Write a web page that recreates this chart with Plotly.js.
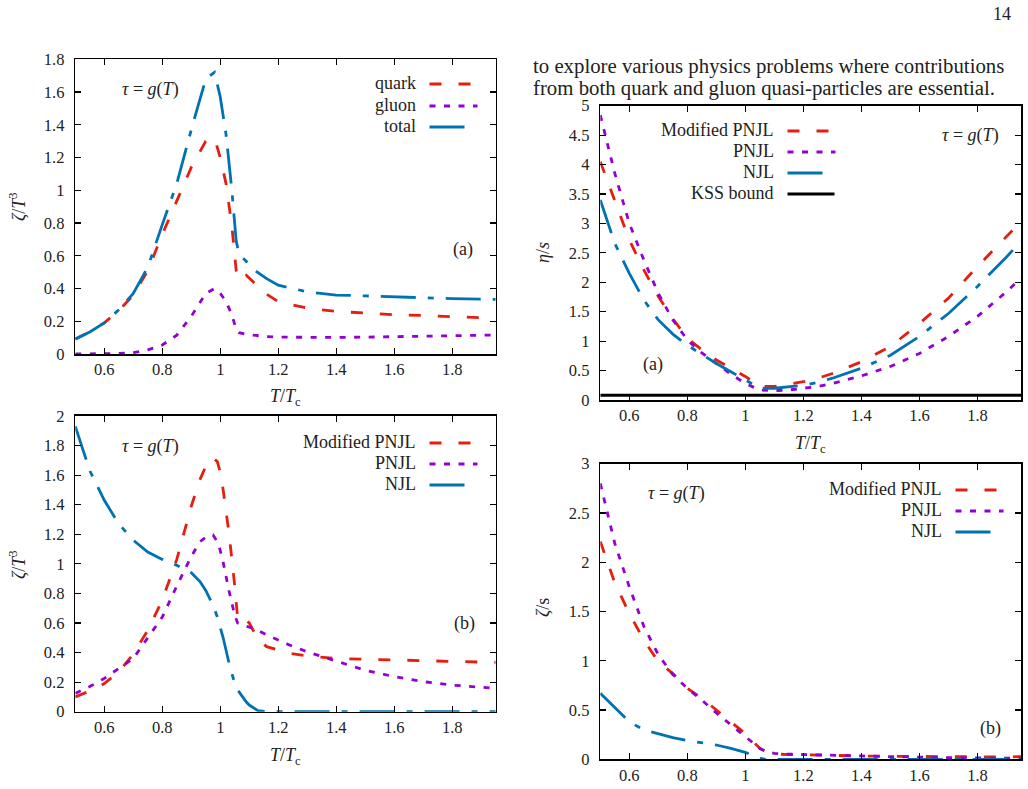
<!DOCTYPE html>
<html>
<head>
<meta charset="utf-8">
<script src="https://cdn.plot.ly/plotly-3.0.1.min.js"></script>
<style>
  html, body { margin: 0; padding: 0; background: #fff; }
  #fig { width: 1028px; height: 789px; }
</style>
</head>
<body>
<div id="fig"></div>
<script>
// ---- Panel (a), left: zeta/T^3 for quark, gluon and total ----
const tempA = [0.5, 0.55, 0.6, 0.65, 0.7, 0.75, 0.8, 0.85, 0.9, 0.95, 0.98, 1.0, 1.02, 1.04, 1.055, 1.065, 1.09, 1.12, 1.16, 1.2, 1.3, 1.4, 1.5, 1.6, 1.7, 1.8, 1.9, 1.95];
const zetaQuark = [0.09, 0.135, 0.19, 0.265, 0.36, 0.51, 0.73, 0.93, 1.14, 1.30, 1.32, 1.20, 1.04, 0.78, 0.51, 0.45, 0.48, 0.43, 0.365, 0.32, 0.28, 0.26, 0.25, 0.24, 0.235, 0.228, 0.222, 0.218];
const zetaGluon = [0.0, 0.0, 0.001, 0.003, 0.008, 0.025, 0.055, 0.115, 0.23, 0.37, 0.40, 0.37, 0.32, 0.24, 0.15, 0.13, 0.12, 0.112, 0.106, 0.103, 0.10, 0.101, 0.103, 0.106, 0.108, 0.111, 0.114, 0.116];
const zetaTotal = [0.092, 0.135, 0.19, 0.27, 0.37, 0.53, 0.79, 1.04, 1.37, 1.68, 1.72, 1.57, 1.34, 1.00, 0.69, 0.61, 0.565, 0.51, 0.46, 0.42, 0.38, 0.36, 0.355, 0.348, 0.343, 0.338, 0.335, 0.334];

// ---- Panel (b), left: zeta/T^3 for the three models ----
const tempB = [0.5, 0.55, 0.6, 0.65, 0.7, 0.75, 0.8, 0.85, 0.9, 0.93, 0.95, 0.975, 0.99, 1.0, 1.01, 1.03, 1.05, 1.06, 1.08, 1.09, 1.1, 1.13, 1.16, 1.2, 1.24, 1.3, 1.4, 1.5, 1.6, 1.7, 1.8, 1.9, 1.95];
const zetaModPNJL = [0.10, 0.14, 0.19, 0.27, 0.39, 0.55, 0.755, 1.03, 1.39, 1.57, 1.66, 1.72, 1.69, 1.62, 1.50, 1.21, 0.85, 0.63, 0.60, 0.615, 0.60, 0.49, 0.44, 0.42, 0.395, 0.377, 0.36, 0.355, 0.35, 0.345, 0.34, 0.335, 0.333];
const zetaPNJL = [0.124, 0.17, 0.225, 0.29, 0.36, 0.50, 0.64, 0.85, 1.05, 1.15, 1.18, 1.195, 1.15, 1.09, 1.01, 0.82, 0.65, 0.60, 0.585, 0.58, 0.575, 0.55, 0.52, 0.485, 0.45, 0.405, 0.34, 0.28, 0.237, 0.203, 0.18, 0.165, 0.158];
const zetaNJL = [1.93, 1.63, 1.43, 1.27, 1.16, 1.08, 1.03, 0.99, 0.94, 0.88, 0.82, 0.72, 0.64, 0.575, 0.50, 0.33, 0.19, 0.147, 0.09, 0.065, 0.045, 0.007, 0.0, 0.0, 0.0, 0.0, 0.0, 0.0, 0.0, 0.0, 0.0, 0.0, 0.0];

// ---- Panel (a), right: eta/s ----
const tempEta = [0.5, 0.55, 0.6, 0.65, 0.7, 0.75, 0.8, 0.85, 0.9, 0.95, 1.0, 1.05, 1.1, 1.15, 1.2, 1.25, 1.3, 1.4, 1.5, 1.6, 1.7, 1.8, 1.9, 1.95];
const etaModPNJL = [4.05, 3.4, 2.72, 2.21, 1.76, 1.38, 1.05, 0.85, 0.68, 0.54, 0.40, 0.23, 0.23, 0.27, 0.31, 0.37, 0.45, 0.65, 0.91, 1.30, 1.73, 2.27, 2.77, 3.03];
const etaPNJL = [4.84, 3.85, 3.0, 2.38, 1.81, 1.36, 1.02, 0.80, 0.62, 0.44, 0.28, 0.17, 0.16, 0.17, 0.20, 0.23, 0.28, 0.41, 0.57, 0.79, 1.08, 1.42, 1.84, 2.07];
const etaNJL = [3.40, 2.66, 2.15, 1.70, 1.36, 1.12, 0.93, 0.77, 0.62, 0.48, 0.34, 0.20, 0.20, 0.22, 0.25, 0.30, 0.37, 0.54, 0.76, 1.08, 1.47, 1.93, 2.43, 2.70];
const kssTemp = [0.5, 1.95];
const kssBound = [0.08, 0.08];

// ---- Panel (b), right: zeta/s ----
const tempZs = [0.5, 0.55, 0.6, 0.65, 0.7, 0.75, 0.8, 0.85, 0.9, 0.95, 1.0, 1.03, 1.05, 1.07, 1.1, 1.15, 1.2, 1.3, 1.4, 1.5, 1.6, 1.7, 1.8, 1.9, 1.95];
const zsModPNJL = [2.21, 1.79, 1.48, 1.21, 0.99, 0.87, 0.72, 0.62, 0.50, 0.38, 0.26, 0.17, 0.11, 0.08, 0.054, 0.048, 0.044, 0.038, 0.034, 0.03, 0.027, 0.025, 0.024, 0.024, 0.027];
const zsPNJL = [2.80, 2.19, 1.75, 1.35, 1.06, 0.86, 0.72, 0.60, 0.47, 0.35, 0.23, 0.16, 0.11, 0.08, 0.06, 0.052, 0.047, 0.04, 0.034, 0.027, 0.02, 0.017, 0.014, 0.011, 0.01];
const zsNJL = [0.67, 0.52, 0.38, 0.30, 0.26, 0.22, 0.19, 0.165, 0.145, 0.11, 0.07, 0.034, 0.01, 0.0, 0.0, 0.0, 0.0, 0.0, 0.0, 0.0, 0.0, 0.0, 0.0, 0.0, 0.0];

const xTicks = [0.6, 0.8, 1.0, 1.2, 1.4, 1.6, 1.8];
const xTickText = ['0.6', '0.8', '1', '1.2', '1.4', '1.6', '1.8'];

// ---- styling ----
const W = 1028, H = 789;
const SERIF = 'Liberation Serif';
const INK = '#222';
const RED = '#e51e10', PURPLE = '#9400d3', BLUE = '#0072b2';
const DASH = '12px,17px';
const DOT = '6px,8.5px';
const DASHDOT = '35px,12px,6px,12px';
const LW = 2.8;

const px = x => x / W;          // pixel -> paper x
const py = y => 1 - y / H;      // pixel -> paper y

function line(x, y, color, dash, xa, ya, width) {
  return { x, y, type: 'scatter', mode: 'lines', xaxis: xa, yaxis: ya,
           line: { color, dash, width: width || LW }, hoverinfo: 'skip', showlegend: false };
}

const traces = [
  line(tempA, zetaQuark, RED, DASH, 'x', 'y'),
  line(tempA, zetaGluon, PURPLE, DOT, 'x', 'y'),
  line(tempA, zetaTotal, BLUE, DASHDOT, 'x', 'y'),

  line(tempB, zetaModPNJL, RED, DASH, 'x2', 'y2'),
  line(tempB, zetaPNJL, PURPLE, DOT, 'x2', 'y2'),
  line(tempB, zetaNJL, BLUE, DASHDOT, 'x2', 'y2'),

  line(tempEta, etaModPNJL, RED, DASH, 'x3', 'y3'),
  line(tempEta, etaPNJL, PURPLE, DOT, 'x3', 'y3'),
  line(tempEta, etaNJL, BLUE, DASHDOT, 'x3', 'y3'),
  line(kssTemp, kssBound, '#000', 'solid', 'x3', 'y3', 3),

  line(tempZs, zsModPNJL, RED, DASH, 'x4', 'y4'),
  line(tempZs, zsPNJL, PURPLE, DOT, 'x4', 'y4'),
  line(tempZs, zsNJL, BLUE, DASHDOT, 'x4', 'y4'),
];

function xAxis(left, right, anchor) {
  return {
    domain: [px(left), px(right)], range: [0.5, 1.95], anchor,
    tickvals: xTicks, ticktext: xTickText,
    ticks: 'inside', ticklen: 6, tickwidth: 1.2, tickcolor: '#000',
    showline: true, linecolor: '#000', linewidth: 1.6, mirror: 'ticks',
    showgrid: false, zeroline: false, fixedrange: true,
    tickfont: { family: SERIF, size: 16.5, color: INK }
  };
}
function yAxis(top, bottom, max, step, anchor) {
  const vals = [], labels = [];
  for (let i = 0; i * step <= max + 1e-9; i++) {
    const v = +(i * step).toFixed(2);
    vals.push(v); labels.push(String(v));
  }
  return {
    domain: [py(bottom), py(top)], range: [0, max], anchor,
    tickvals: vals, ticktext: labels, ticklabelstandoff: 6,
    ticks: 'inside', ticklen: 6, tickwidth: 1.2, tickcolor: '#000',
    showline: true, linecolor: '#000', linewidth: 1.6, mirror: 'ticks',
    showgrid: false, zeroline: false, fixedrange: true,
    tickfont: { family: SERIF, size: 16.5, color: INK }
  };
}

const annotations = [];
const shapes = [];
function label(x, y, str, opts) {
  annotations.push(Object.assign({
    xref: 'paper', yref: 'paper', x: px(x), y: py(y), text: str, showarrow: false,
    xanchor: 'center', yanchor: 'middle',
    font: { family: SERIF, size: 18, color: INK }
  }, opts || {}));
}
// legend entry: right-aligned label followed by a line sample
function key(xRight, y, name, color, dash, len, width) {
  label(xRight, y, name, { xanchor: 'right' });
  shapes.push({ type: 'line', xref: 'paper', yref: 'paper',
    x0: px(xRight + 11.5), x1: px(xRight + 11.5 + len), y0: py(y + 1), y1: py(y + 1),
    line: { color, dash, width: width || LW } });
}

const TAU = '<i>τ</i> = <i>g</i>(<i>T</i>)';
const TTC = '<i>T</i>/<i>T</i><sub>c</sub>';

// running text and page number
label(531, 65.5, 'to explore various physics problems where contributions', { xanchor: 'left', font: { family: SERIF, size: 20.8, color: INK } });
label(531, 88, 'from both quark and gluon quasi-particles are essential.', { xanchor: 'left', font: { family: SERIF, size: 20.8, color: INK } });
label(1013, 14, '14', { xanchor: 'right', font: { family: SERIF, size: 18, color: INK } });

// panel (a) left
label(150, 89, TAU);
label(463, 250, '(a)');
key(418, 83, 'quark', RED, DASH, 41);
key(418, 105, 'gluon', PURPLE, DOT, 48);
key(418, 126, 'total', BLUE, 'solid', 35);
label(285, 398, TTC);
label(17, 207, '<i>ζ</i>/<i>T</i><sup>3</sup>', { textangle: -90 });

// panel (b) left
label(150, 447, TAU);
label(464, 623, '(b)');
key(418, 442, 'Modified PNJL', RED, DASH, 41);
key(418, 463, 'PNJL', PURPLE, DOT, 48);
key(418, 484, 'NJL', BLUE, 'solid', 35);
label(285, 756, TTC);
label(17, 565, '<i>ζ</i>/<i>T</i><sup>3</sup>', { textangle: -90 });

// panel (a) right
label(970, 135, TAU);
label(653, 365, '(a)');
key(776, 130, 'Modified PNJL', RED, DASH, 41);
key(776, 151, 'PNJL', PURPLE, DOT, 48);
key(776, 172, 'NJL', BLUE, 'solid', 35);
key(776, 193, 'KSS bound', '#000', 'solid', 47, 3);
label(810, 444, TTC);
label(543, 253, '<i>η</i>/<i>s</i>', { textangle: -90 });

// panel (b) right
label(676, 493, TAU);
label(990, 728, '(b)');
key(944, 489, 'Modified PNJL', RED, DASH, 41);
key(944, 510, 'PNJL', PURPLE, DOT, 48);
key(944, 531, 'NJL', BLUE, 'solid', 35);
label(543, 608, '<i>ζ</i>/s', { textangle: -90 });

const layout = {
  width: W, height: H,
  margin: { l: 0, r: 0, t: 0, b: 0 },
  paper_bgcolor: '#fff', plot_bgcolor: '#fff',
  showlegend: false,
  font: { family: SERIF, color: INK },
  xaxis: xAxis(75.3, 495.7, 'y'),
  yaxis: yAxis(59.3, 354, 1.8, 0.2, 'x'),
  xaxis2: xAxis(75.3, 495.7, 'y2'),
  yaxis2: yAxis(416, 711.7, 2, 0.2, 'x2'),
  xaxis3: xAxis(600.3, 1021, 'y3'),
  yaxis3: yAxis(105.7, 400, 5, 0.5, 'x3'),
  xaxis4: xAxis(600.3, 1021, 'y4'),
  yaxis4: yAxis(463.7, 759.3, 3, 0.5, 'x4'),
  annotations, shapes
};

Plotly.newPlot('fig', traces, layout, { staticPlot: true, displayModeBar: false });
</script>
</body>
</html>
